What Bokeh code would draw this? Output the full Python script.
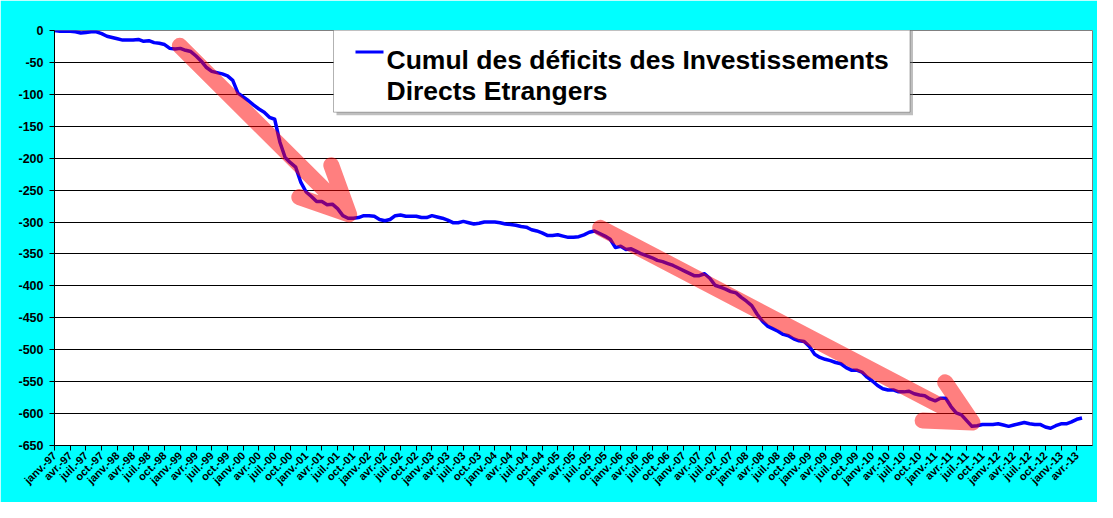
import math
from bokeh.plotting import figure
from bokeh.models import FixedTicker, BoxAnnotation, Label, Range1d
from bokeh.embed import file_html
from bokeh.resources import INLINE

# ---------------- data ----------------
QUARTER_NAMES = ["janv.", "avr.", "juil.", "oct."]
YEARS = ["97", "98", "99", "00", "01", "02", "03", "04", "05",
         "06", "07", "08", "09", "10", "11", "12", "13"]

# cumulative FDI deficit, monthly from janv.-97
DEFICIT = [
    0, -1, -1, -1, -2, -4, -3, -2, -2, -5,
    -9, -11, -13, -15, -15, -15, -14, -17, -16, -19,
    -20, -22, -28, -29, -28, -31, -33, -40, -48, -58,
    -64, -66, -68, -71, -78, -98, -104, -110, -117, -123,
    -128, -136, -139, -175, -199, -207, -214, -238, -253, -260,
    -268, -268, -273, -272, -279, -290, -294, -294, -293, -290,
    -290, -291, -296, -298, -296, -290, -289, -291, -291, -291,
    -293, -293, -290, -292, -294, -297, -301, -301, -299, -301,
    -303, -302, -300, -300, -300, -301, -303, -304, -305, -307,
    -308, -312, -314, -317, -321, -321, -320, -322, -324, -324,
    -323, -320, -316, -314, -318, -322, -327, -340, -338, -343,
    -342, -346, -350, -353, -356, -360, -362, -365, -368, -372,
    -376, -380, -384, -384, -381, -388, -399, -402, -405, -409,
    -411, -418, -424, -431, -444, -455, -463, -467, -471, -476,
    -478, -483, -486, -487, -495, -507, -512, -515, -517, -520,
    -522, -528, -532, -532, -535, -543, -549, -556, -561, -563,
    -563, -566, -566, -565, -569, -571, -572, -577, -580, -576,
    -576, -589, -599, -602, -611, -620, -619, -617, -617, -617,
    -616, -618, -620, -618, -616, -614, -616, -617, -617, -621,
    -623, -619, -616, -616, -613, -609, -607,
]

Y_TICKS = [0, -50, -100, -150, -200, -250, -300, -350, -400, -450,
           -500, -550, -600, -650]

# hand-drawn arrows (month index, value): shaft start, tip, head 1, tip, head 2
ARROW1_X = [23.9, 56.2, 52.8, 56.2, 46.7]
ARROW1_Y = [-24, -288, -211, -288, -261]
ARROW2_X = [104.1, 175.1, 169.9, 175.1, 165.6]
ARROW2_Y = [-309, -614, -551, -614, -611]

LEGEND_LINES = ["Cumul des déficits des Investissements", "Directs Etrangers"]

# ---------------- figure ----------------
months = list(range(len(DEFICIT)))
tick_pos = list(range(0, 196, 3))
tick_labels = {pos: f"{QUARTER_NAMES[i % 4]}-{YEARS[i // 4]}" for i, pos in enumerate(tick_pos)}

p = figure(width=1097, height=502, output_backend="svg", toolbar_location=None,
           x_range=Range1d(0, 198), y_range=Range1d(-650, 0),
           min_border_left=54, min_border_right=5, min_border_top=30, min_border_bottom=57,
           background_fill_color="white", border_fill_color="#00FFFF")
p.outline_line_color = "#808080"
p.outline_line_width = 1

FONT = "Liberation Sans"

xa = p.xaxis[0]
xa.ticker = FixedTicker(ticks=tick_pos)
xa.major_label_overrides = tick_labels
xa.major_label_orientation = math.pi / 4
xa.major_label_text_font = FONT
xa.major_label_text_font_style = "bold"
xa.major_label_text_font_size = "11px"
xa.major_label_text_color = "black"
xa.axis_line_color = "black"
xa.major_tick_line_color = "black"
xa.major_tick_out = 5
xa.major_tick_in = 0
xa.minor_tick_line_color = None
xa.major_label_standoff = 3

ya = p.yaxis[0]
ya.ticker = FixedTicker(ticks=Y_TICKS)
ya.major_label_overrides = {t: str(t) for t in Y_TICKS}
ya.major_label_text_font = FONT
ya.major_label_text_font_style = "bold"
ya.major_label_text_font_size = "12.5px"
ya.major_label_text_color = "black"
ya.axis_line_color = "black"
ya.major_tick_line_color = "black"
ya.major_tick_out = 5
ya.major_tick_in = 0
ya.minor_tick_line_color = None
ya.major_label_standoff = 6

p.xgrid.visible = False
p.ygrid.ticker = FixedTicker(ticks=Y_TICKS[1:-1])
p.ygrid.grid_line_color = "black"
p.ygrid.grid_line_width = 1

p.line(months, DEFICIT, line_color="#0000FF", line_width=3.5, line_join="round")

for ax, ay in ((ARROW1_X, ARROW1_Y), (ARROW2_X, ARROW2_Y)):
    p.line(ax, ay, line_color="#FF0000", line_alpha=0.5, line_width=16,
           line_cap="round", line_join="round")

# legend box (screen units relative to the frame)
p.add_layout(BoxAnnotation(left=282, right=858.5, top=420.5, bottom=330.3,
                           left_units="screen", right_units="screen",
                           top_units="screen", bottom_units="screen",
                           fill_color="#808080", fill_alpha=0.5, line_alpha=0))
p.add_layout(BoxAnnotation(left=279, right=855.5, top=423.5, bottom=333.3,
                           left_units="screen", right_units="screen",
                           top_units="screen", bottom_units="screen",
                           fill_color="white", fill_alpha=1.0,
                           line_color="black", line_width=1))
p.add_layout(BoxAnnotation(left=301, right=329, top=395, bottom=392,
                           left_units="screen", right_units="screen",
                           top_units="screen", bottom_units="screen",
                           fill_color="#0000FF", fill_alpha=1.0, line_alpha=0))
for txt, yy in zip(LEGEND_LINES, (385.5, 355)):
    p.add_layout(Label(x=332, y=yy, x_units="screen", y_units="screen", text=txt,
                       text_font=FONT, text_font_style="bold", text_font_size="26.5px",
                       text_color="black", text_baseline="alphabetic"))

open("out.html", "w").write(file_html(p, INLINE))
